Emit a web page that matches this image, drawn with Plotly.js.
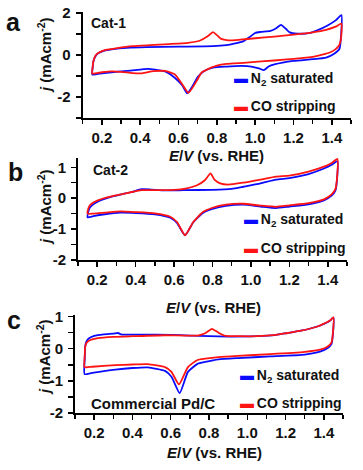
<!DOCTYPE html>
<html>
<head>
<meta charset="utf-8">
<script src="https://cdn.plot.ly/plotly-3.0.1.min.js"></script>
<style>html,body{margin:0;padding:0;background:#fff;}#chart{width:363px;height:470px;}</style>
</head>
<body>
<div id="chart"></div>
<script>
// ---------- DATA ----------
// Panel a: Cat-1
const aN2E = [0.15,0.152,0.156,0.165,0.18,0.21,0.26,0.33,0.43,0.6,0.78,0.85,0.89,0.94,0.97,1.0,1.03,1.08,1.11,1.135,1.16,1.18,1.22,1.28,1.33,1.38,1.42,1.45,
              1.448,1.44,1.41,1.37,1.3,1.2,1.1,1.07,1.045,1.02,0.98,0.93,0.85,0.78,0.73,0.7,0.675,0.645,0.62,0.58,0.53,0.48,0.44,0.35,0.25,0.2,0.15];
const aN2J = [-0.93,-0.6,-0.3,-0.08,0.08,0.2,0.28,0.34,0.38,0.4,0.42,0.47,0.54,0.66,0.85,1.05,1.1,1.15,1.28,1.44,1.25,1.08,1.02,1.04,1.2,1.42,1.65,1.9,
              0.9,0.3,0.05,-0.12,-0.2,-0.28,-0.45,-0.55,-0.72,-0.64,-0.55,-0.52,-0.55,-0.6,-0.78,-1.05,-1.45,-1.83,-1.45,-1.08,-0.78,-0.7,-0.66,-0.74,-0.82,-0.87,-0.93];
const aCOE = [0.15,0.152,0.157,0.167,0.185,0.22,0.28,0.36,0.45,0.55,0.65,0.71,0.75,0.78,0.8,0.82,0.86,0.92,1.0,1.1,1.2,1.3,1.37,1.42,1.45,
              1.448,1.44,1.42,1.39,1.35,1.29,1.2,1.1,1.0,0.94,0.85,0.8,0.77,0.72,0.695,0.652,0.62,0.58,0.53,0.47,0.41,0.36,0.3,0.25,0.2,0.15];
const aCOJ = [-0.88,-0.55,-0.25,-0.02,0.12,0.24,0.33,0.42,0.47,0.52,0.58,0.68,0.88,1.09,0.95,0.78,0.7,0.73,0.8,0.88,0.97,1.08,1.2,1.35,1.5,
              0.8,0.5,0.28,0.12,0.02,-0.1,-0.18,-0.26,-0.33,-0.37,-0.42,-0.5,-0.6,-0.84,-1.23,-1.8,-1.4,-0.92,-0.76,-0.77,-0.87,-0.86,-0.8,-0.78,-0.82,-0.88];
// Panel b: Cat-2
const bN2E = [0.15,0.153,0.162,0.18,0.2,0.23,0.28,0.33,0.38,0.43,0.48,0.55,0.65,0.8,0.9,0.96,1.05,1.13,1.2,1.3,1.38,1.42,1.45,
              1.448,1.44,1.42,1.38,1.3,1.2,1.13,1.05,0.96,0.87,0.8,0.75,0.7,0.657,0.615,0.58,0.5,0.4,0.32,0.24,0.18,0.15];
const bN2J = [-0.62,-0.45,-0.3,-0.2,-0.12,-0.04,0.06,0.13,0.2,0.29,0.28,0.25,0.26,0.27,0.3,0.37,0.48,0.6,0.65,0.78,0.96,1.08,1.2,
              0.6,0.25,0.08,-0.07,-0.2,-0.27,-0.32,-0.27,-0.21,-0.25,-0.35,-0.48,-0.78,-1.2,-0.8,-0.63,-0.52,-0.48,-0.47,-0.52,-0.58,-0.62];
const bCOE = [0.15,0.153,0.162,0.18,0.2,0.23,0.28,0.33,0.38,0.43,0.5,0.6,0.66,0.72,0.76,0.79,0.81,0.84,0.88,0.96,1.05,1.13,1.2,1.3,1.38,1.42,1.45,
              1.448,1.44,1.42,1.38,1.3,1.2,1.13,1.05,0.96,0.87,0.8,0.75,0.7,0.657,0.615,0.58,0.5,0.4,0.32,0.24,0.18,0.15];
const bCOJ = [-0.5,-0.35,-0.23,-0.14,-0.08,-0.01,0.07,0.13,0.2,0.26,0.26,0.27,0.31,0.42,0.58,0.8,0.6,0.48,0.44,0.5,0.6,0.7,0.73,0.86,1.02,1.14,1.27,
              0.65,0.3,0.12,-0.04,-0.16,-0.23,-0.28,-0.24,-0.18,-0.21,-0.31,-0.45,-0.77,-1.2,-0.77,-0.6,-0.49,-0.45,-0.43,-0.47,-0.5,-0.5];
// Panel c: Commercial Pd/C
const cN2E = [0.15,0.151,0.153,0.158,0.17,0.2,0.25,0.3,0.325,0.34,0.45,0.6,0.7,0.8,0.9,1.05,1.15,1.21,1.28,1.33,1.37,1.4,1.43,1.45,
              1.448,1.44,1.42,1.38,1.3,1.12,0.95,0.85,0.78,0.74,0.69,0.647,0.604,0.57,0.48,0.4,0.31,0.19,0.15];
const cN2J = [-0.79,-0.3,0.05,0.2,0.31,0.4,0.45,0.47,0.49,0.45,0.44,0.43,0.41,0.39,0.38,0.39,0.43,0.49,0.56,0.63,0.7,0.77,0.86,0.97,
              0.5,0.15,0.02,-0.09,-0.18,-0.24,-0.29,-0.33,-0.41,-0.47,-0.72,-1.38,-0.87,-0.69,-0.58,-0.6,-0.65,-0.75,-0.79];
const cCOE = [0.15,0.151,0.153,0.16,0.18,0.22,0.3,0.4,0.57,0.74,0.78,0.815,0.85,0.88,1.05,1.15,1.21,1.28,1.33,1.37,1.4,1.43,1.45,
              1.448,1.44,1.42,1.38,1.3,1.12,0.95,0.85,0.78,0.74,0.69,0.643,0.604,0.57,0.48,0.4,0.31,0.19,0.15];
const cCOJ = [-0.57,-0.2,0.05,0.18,0.27,0.33,0.37,0.39,0.42,0.41,0.48,0.62,0.5,0.41,0.39,0.43,0.49,0.56,0.63,0.7,0.78,0.87,0.98,
              0.55,0.2,0.07,-0.03,-0.1,-0.17,-0.22,-0.26,-0.31,-0.35,-0.57,-1.11,-0.72,-0.57,-0.48,-0.49,-0.51,-0.56,-0.57];

const seriesNames = ['N<sub>2</sub> saturated', 'CO stripping'];
const panelLetters = ['a', 'b', 'c'];
const panelLabels = ['Cat-1', 'Cat-2', 'Commercial Pd/C'];
const xTickVals = [0.2, 0.4, 0.6, 0.8, 1.0, 1.2, 1.4];
const xTickText = ['0.2', '0.4', '0.6', '0.8', '1.0', '1.2', '1.4'];
const yTickValsA = [-2, 0, 2];
const yTickTextA = ['-2', '0', '2'];
const yTickValsBC = [-2, -1, 0, 1];
const yTickTextBC = ['-2', '-1', '0', '1'];
const xTitle = '<i>E</i>/<i>V</i> (vs. RHE)';
const yTitle = '<i>j</i> (mAcm<sup>-2</sup>)';

// ---------- STYLE ----------
const FONT = 'Liberation Sans, Arial, Helvetica, sans-serif';
const BLUE = '#0a0aff';
const RED = '#ff1414';
const W = 363, H = 470;

// pixel layout of the three plot areas (left, right, top, bottom)
const boxes = [
  {l: 82.7, r: 351, t: 12, b: 118, yr: [-3, 2.05], ytv: yTickValsA, ytt: yTickTextA, ymin: 1},
  {l: 78, r: 347, t: 158, b: 260, yr: [-2, 1.3], ytv: yTickValsBC, ytt: yTickTextBC, ymin: 0.5},
  {l: 75, r: 343, t: 315, b: 413, yr: [-2, 1.05], ytv: yTickValsBC, ytt: yTickTextBC, ymin: 0.5}
];

const dataSets = [
  [aN2E, aN2J, aCOE, aCOJ],
  [bN2E, bN2J, bCOE, bCOJ],
  [cN2E, cN2J, cCOE, cCOJ]
];

const traces = [];
const layout = {
  width: W, height: H,
  margin: {l: 0, r: 0, t: 0, b: 0},
  paper_bgcolor: '#fff', plot_bgcolor: 'rgba(0,0,0,0)',
  showlegend: false,
  font: {family: FONT, color: '#111', size: 14},
  annotations: []
};

const tickFont = {family: FONT, size: 15, color: '#111', weight: 700};

boxes.forEach((bx, i) => {
  const n = i === 0 ? '' : String(i + 1);
  const xa = 'x' + n, ya = 'y' + n;
  const [n2E, n2J, coE, coJ] = dataSets[i];
  traces.push({x: n2E, y: n2J, xaxis: xa, yaxis: ya, mode: 'lines', name: 'N2 saturated',
    line: {color: BLUE, width: 1.8, shape: 'spline', smoothing: 0.5}, hoverinfo: 'skip'});
  traces.push({x: coE, y: coJ, xaxis: xa, yaxis: ya, mode: 'lines', name: 'CO stripping',
    line: {color: RED, width: 1.8, shape: 'spline', smoothing: 0.5}, hoverinfo: 'skip'});

  layout['xaxis' + n] = {
    domain: [bx.l / W, bx.r / W], anchor: ya,
    range: [0.1, 1.5], tickvals: xTickVals, ticktext: xTickText,
    ticks: 'outside', ticklen: 5, tickwidth: 1.5, tickcolor: '#000',
    minor: {tick0: 0.1, dtick: 0.1, ticks: 'outside', ticklen: 4, tickwidth: 1.5, tickcolor: '#000'},
    showline: true, linewidth: 2, linecolor: '#000', showgrid: false, zeroline: false,
    tickfont: tickFont, fixedrange: true
  };
  layout['yaxis' + n] = {
    domain: [1 - bx.b / H, 1 - bx.t / H], anchor: xa,
    range: bx.yr, tickvals: bx.ytv, ticktext: bx.ytt,
    ticks: 'outside', ticklen: 5, tickwidth: 1.5, tickcolor: '#000',
    minor: {tick0: 0, dtick: bx.ymin, ticks: 'outside', ticklen: 5, tickwidth: 1.5, tickcolor: '#000'},
    showline: true, linewidth: 2, linecolor: '#000', showgrid: false, zeroline: false,
    tickfont: tickFont, fixedrange: true, ticklabelstandoff: 2
  };
});

// text placement (pixel positions of texts)
const texts = [
  {let: [13, 22], lab: [89, 23], xt: [216, 155], yt: [44, 55], lg1: [232, 79], lg2: [232, 106]},
  {let: [15, 172], lab: [91, 170], xt: [213, 307], yt: [44, 207], lg1: [242, 220], lg2: [242, 248]},
  {let: [14, 320], lab: [89, 403], xt: [214, 452], yt: [43, 357], lg1: [238, 376], lg2: [238, 403]}
];
const px = v => v / W, py = v => 1 - v / H;

texts.forEach((t, i) => {
  const A = layout.annotations;
  A.push({text: panelLetters[i], xref: 'paper', yref: 'paper', x: px(t.let[0]), y: py(t.let[1]),
    xanchor: 'center', yanchor: 'middle', showarrow: false,
    font: {family: FONT, size: 25, color: '#111', weight: 700}});
  A.push({text: panelLabels[i], xref: 'paper', yref: 'paper', x: px(t.lab[0]), y: py(t.lab[1]),
    xanchor: 'left', yanchor: 'middle', showarrow: false,
    font: {family: FONT, size: i === 2 ? 15 : 14, color: '#111', weight: 700}});
  A.push({text: xTitle, xref: 'paper', yref: 'paper', x: px(t.xt[0]), y: py(t.xt[1]),
    xanchor: 'center', yanchor: 'middle', showarrow: false,
    font: {family: FONT, size: 15, color: '#111', weight: 700}});
  A.push({text: yTitle, xref: 'paper', yref: 'paper', x: px(t.yt[0]), y: py(t.yt[1]),
    xanchor: 'center', yanchor: 'middle', showarrow: false, textangle: -90,
    font: {family: FONT, size: 15, color: '#111', weight: 700}});
  A.push({text: '<span style="color:' + BLUE + '">\u25AC</span>\u2009' + seriesNames[0], xref: 'paper', yref: 'paper',
    x: px(t.lg1[0]), y: py(t.lg1[1]), xanchor: 'left', yanchor: 'middle', showarrow: false,
    font: {family: FONT, size: 14, color: '#111', weight: 700}});
  A.push({text: '<span style="color:' + RED + '">\u25AC</span>\u2009' + seriesNames[1], xref: 'paper', yref: 'paper',
    x: px(t.lg2[0]), y: py(t.lg2[1]), xanchor: 'left', yanchor: 'middle', showarrow: false,
    font: {family: FONT, size: 14, color: '#111', weight: 700}});
});

Plotly.newPlot('chart', traces, layout, {staticPlot: true, displayModeBar: false});
</script>
</body>
</html>
